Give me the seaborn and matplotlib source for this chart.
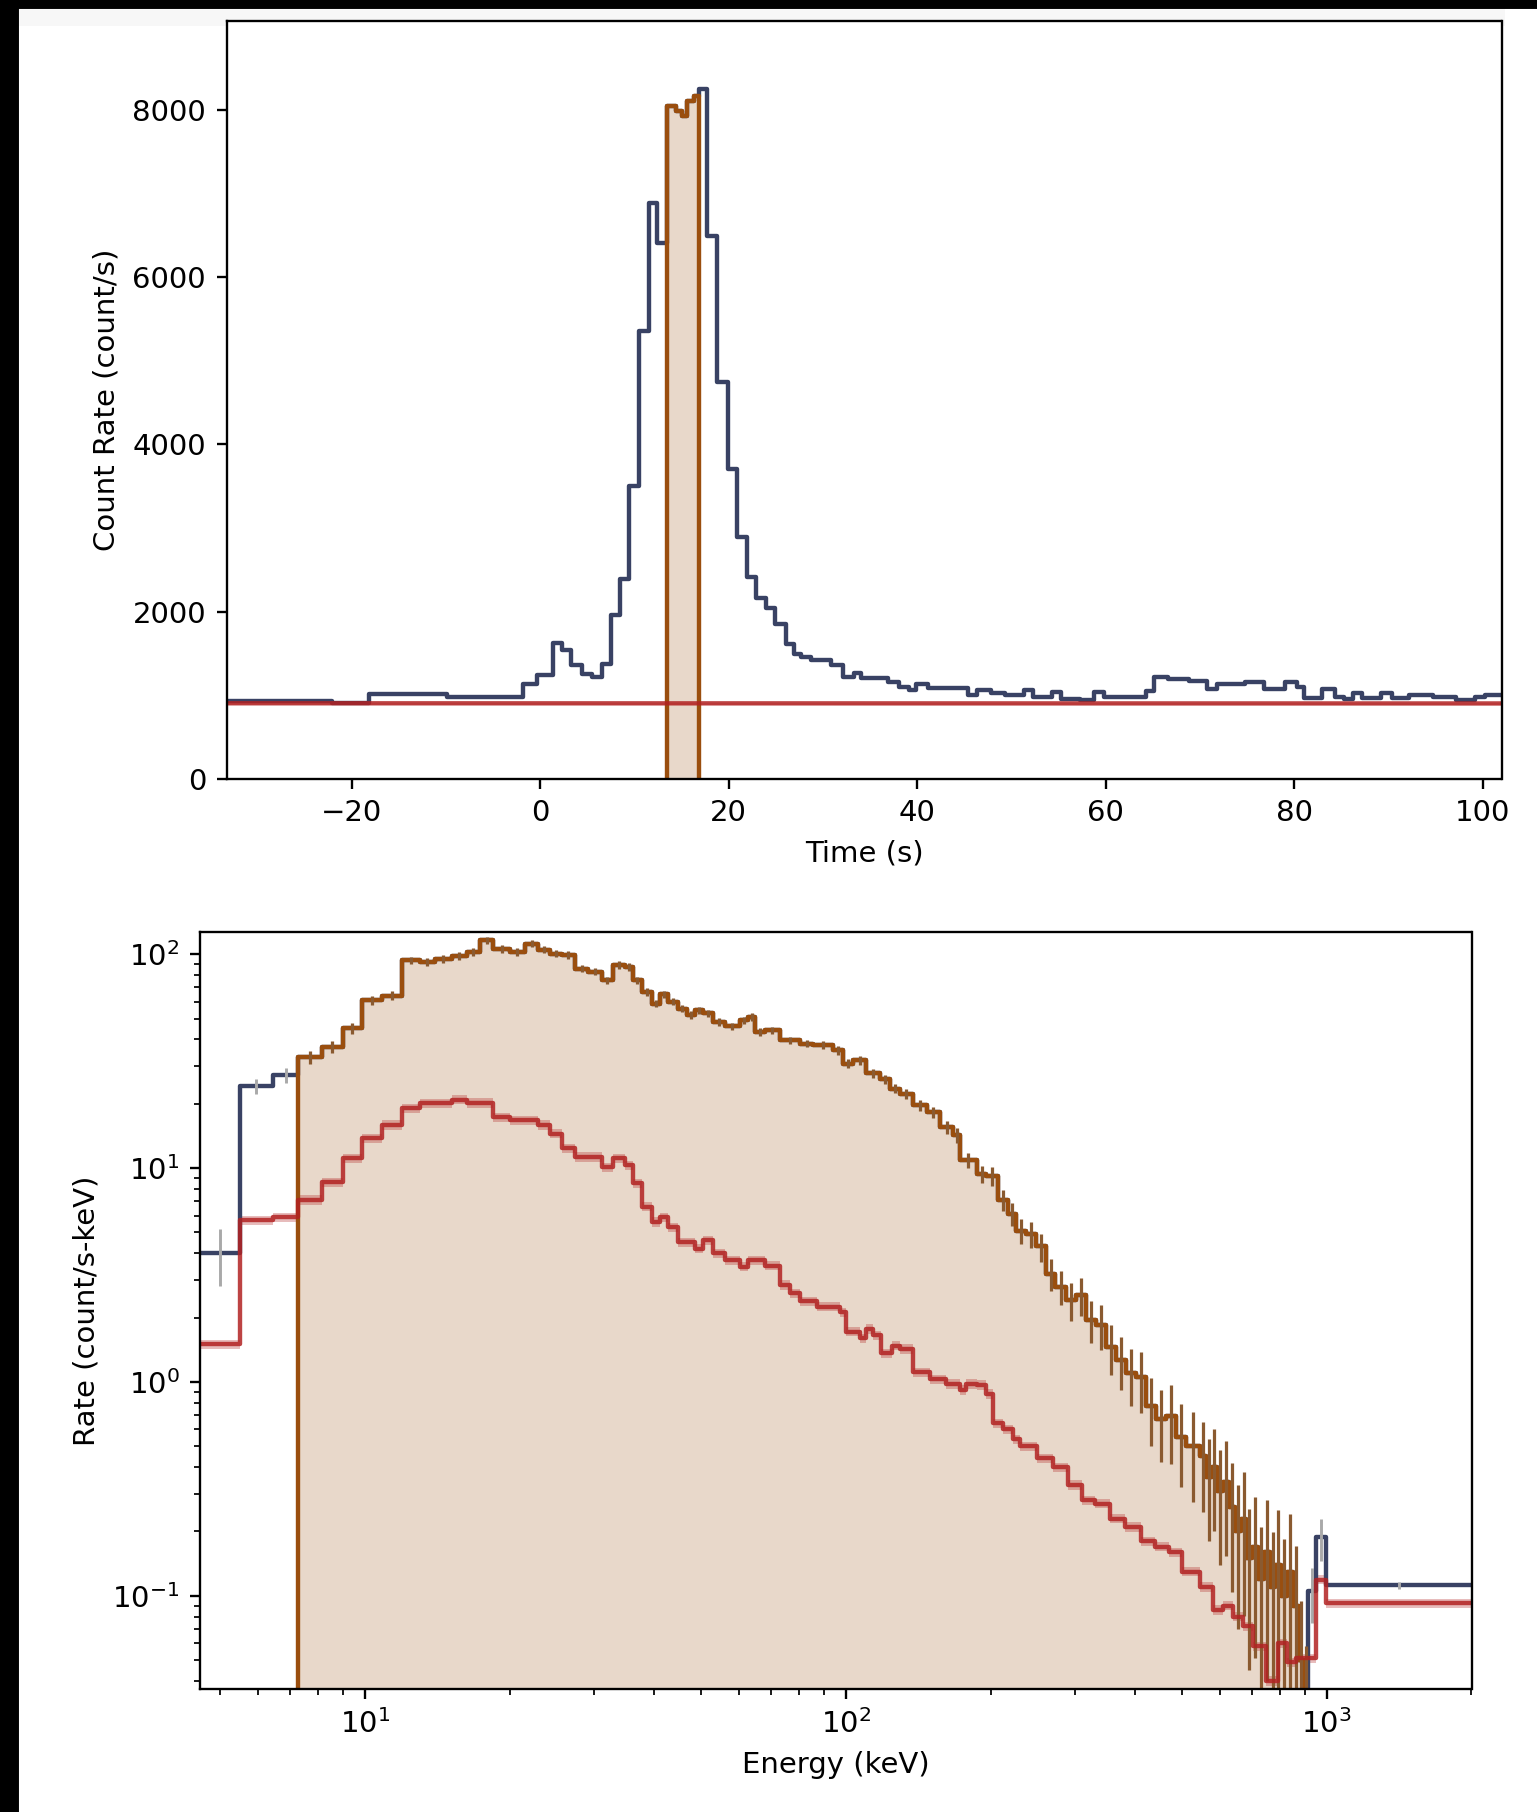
import numpy as np
import matplotlib
matplotlib.use("Agg")
import matplotlib.pyplot as plt
from matplotlib.patches import Rectangle
import seaborn as sns

# ---------------- light curve (top panel) ----------------
lc_edges = [-34.0, -22.1, -18.2, -9.95, -1.84, -0.35, 1.40, 2.34, 3.30, 4.46, 5.52,
            6.51, 7.47, 8.45, 9.41, 10.47, 11.53, 12.35, 13.48, 14.36, 15.07, 15.6,
            16.3, 16.83, 17.72, 18.78, 19.9, 20.83, 21.89, 22.84, 23.9, 24.86, 26.02,
            26.9, 27.66, 28.7, 30.9, 32.1, 33.3, 34.0, 36.9, 38.1, 39.1, 39.9, 41.1,
            45.4, 46.3, 47.8, 49.3, 51.3, 52.3, 54.3, 55.3, 57.3, 58.8, 59.8, 64.3,
            65.1, 66.6, 68.8, 70.8, 71.8, 74.8, 76.8, 79.0, 80.3, 81.0, 83.0, 84.3,
            85.3, 86.2, 87.2, 89.2, 90.4, 92.2, 94.7, 97.2, 99.2, 100.2, 103.0]
lc_rates = [934, 910, 1010, 976, 1140, 1240, 1625, 1540, 1360, 1253,
            1221, 1380, 1957, 2394, 3507, 5357, 6888, 6410, 8049, 7981,
            7923, 8109, 8160, 8252, 6490, 4740, 3707, 2891, 2414, 2165,
            2046, 1857, 1619, 1491, 1460, 1420, 1360, 1221, 1261, 1213,
            1161, 1101, 1062, 1141, 1082, 1002, 1062, 1022, 1002, 1062,
            982, 1042, 962, 943, 1042, 982, 1055, 1221, 1190, 1174,
            1070, 1141, 1161, 1070, 1161, 1094, 974, 1070, 982, 962,
            1022, 974, 1022, 974, 1002, 982, 943, 982, 1002]
sel_time = [13.48, 16.83]
bkg_lc_times = [-34.0, 103.0]
bkg_lc_rates = [905.0, 903.0]

# ---------------- count spectrum (bottom panel) ----------------
spec_lo_edges = [4.54, 5.49, 6.44, 7.27]
spec_lo_rates = [4.0, 24.2, 27.2]
spec_lo_err = [1.2, 2.0, 2.1]

sel_edges = [7.27, 8.13, 9.01, 9.84, 10.83, 11.92, 13.01, 13.98, 15.14, 16.27, 17.34,
             18.49, 20.03, 21.51, 22.94, 24.25, 25.64, 27.33, 29.13, 31.05, 32.84,
             34.72, 36.14, 37.61, 39.45, 41.06, 42.73, 44.82, 46.65, 48.55, 50.52,
             52.99, 56.03, 60.20, 62.66, 64.70, 67.87, 72.93,
             80.3, 85.5, 94.1, 98.7, 103.6, 110.4, 117.7, 123.4, 129.5, 138.0, 147.2,
             156.9, 167.2, 172.6, 187.0, 196.1, 207.3, 217.5, 226.4, 237.5, 249.1,
             261.3, 272.0, 287.6, 301.7, 316.5, 331.9, 348.3, 365.4, 383.3, 402.1,
             421.8, 442.5, 464.2, 487.0, 510.9, 544.5,
             560.0, 576.0, 592.0, 609.0, 626.0, 644.0, 662.0, 681.0, 700.0, 720.0,
             740.0, 761.0, 782.0, 804.0, 827.0, 850.0, 874.0, 898.0, 915.0]
sel_rates = [33.1, 36.9, 45.0, 61.0, 64.0, 93.8, 92.0, 95.0, 98.0, 102.5, 116.0,
             106.0, 102.5, 112.0, 105.0, 100.7, 99.0, 85.7, 83.0, 75.6, 88.9, 87.0,
             75.6, 66.6, 58.8, 65.0, 60.0, 55.7, 51.9, 54.6, 53.0, 48.3, 46.0, 49.0,
             51.0, 43.4, 44.0,
             39.6, 38.2, 37.6, 35.6, 30.8, 32.0, 27.7, 26.0, 23.5, 22.2, 19.7, 18.2,
             15.6, 14.3, 10.9, 9.4, 9.2, 7.1, 6.1, 5.1, 4.9, 4.3, 3.2, 2.79, 2.41,
             2.55, 1.95, 1.85, 1.46, 1.27, 1.10, 1.05, 0.77, 0.67, 0.69, 0.555, 0.50,
             0.45, 0.36, 0.40, 0.31, 0.34, 0.26, 0.20, 0.23, 0.15, 0.17, 0.12, 0.16,
             0.11, 0.14, 0.10, 0.13, 0.09, 0.05, 0.03]
sel_err_frac = [0.07, 0.06, 0.06, 0.05, 0.05, 0.04, 0.04, 0.04, 0.04, 0.04, 0.04,
                0.04, 0.04, 0.04, 0.04, 0.04, 0.04, 0.04, 0.04, 0.04, 0.04, 0.04,
                0.04, 0.04, 0.04, 0.04, 0.04, 0.04, 0.04, 0.04, 0.04, 0.04, 0.04,
                0.04, 0.04, 0.04, 0.04,
                0.04, 0.04, 0.04, 0.05, 0.05, 0.05, 0.05, 0.05, 0.05, 0.05, 0.06,
                0.06, 0.07, 0.08, 0.08, 0.09, 0.10, 0.11, 0.12, 0.13, 0.14, 0.15,
                0.17, 0.18, 0.20, 0.20, 0.22, 0.24, 0.26, 0.28, 0.30, 0.32, 0.35,
                0.37, 0.40, 0.42, 0.45,
                0.45, 0.50, 0.50, 0.55, 0.55, 0.60, 0.65, 0.65, 0.70, 0.70, 0.75,
                0.75, 0.80, 0.80, 0.85, 0.85, 0.90, 0.90, 0.95]

spec_hi_edges = [915.0, 952.0, 998.0, 2000.0]
spec_hi_rates = [0.105, 0.188, 0.112]
spec_hi_err = [0.030, 0.042, 0.004]

bkg_edges = [4.54, 5.49, 6.44, 7.27, 8.13, 9.01, 9.84, 10.83, 11.92, 13.01, 15.14,
             16.27, 18.49, 20.03, 22.94, 24.25, 25.64, 27.33, 31.05, 32.84, 34.72,
             36.14, 37.61, 39.45, 41.06, 42.73, 44.82, 48.55, 50.52, 52.99, 56.03,
             60.20, 62.66, 67.87, 72.93, 76.5, 80.3, 86.9, 97.2, 100.3, 106.9, 110.4,
             114.0, 118.6, 124.5, 129.5, 138.0, 149.5, 161.9, 172.6, 178.2, 187.0,
             196.1, 202.5, 212.4, 222.8, 230.0, 250.0, 270.0, 290.0, 310.0, 330.0,
             355.0, 380.0, 410.0, 440.0, 470.0, 500.0, 545.0, 580.0, 609.0, 638.0,
             670.0, 703.0, 749.0, 792.0, 825.0, 865.0, 952.0, 998.0, 2000.0]
bkg_rates = [1.5, 5.7, 5.9, 7.1, 8.6, 11.1, 13.8, 15.9, 19.0, 20.1, 20.9, 20.2, 17.3,
             16.7, 15.9, 14.5, 12.4, 11.3, 10.1, 11.1, 10.3, 8.5, 6.6, 5.6, 5.9, 5.3,
             4.5, 4.2, 4.6, 4.0, 3.7, 3.46, 3.7, 3.5, 2.84, 2.6, 2.38, 2.25, 2.12,
             1.72, 1.6, 1.77, 1.65, 1.36, 1.48, 1.43, 1.11, 1.03, 0.98, 0.92, 0.98,
             0.97, 0.88, 0.64, 0.60, 0.54, 0.50, 0.44, 0.40, 0.33, 0.28, 0.27, 0.23,
             0.21, 0.18, 0.17, 0.16, 0.13, 0.11, 0.086, 0.09, 0.08, 0.072, 0.058,
             0.040, 0.060, 0.049, 0.051, 0.119, 0.0925]

# ---------------- styling ----------------
DATA_COLOR = '#394264'
SEL_COLOR = '#9a4e0e'
SEL_ERR_COLOR = '#8a5a30'
BKG_COLOR = 'firebrick'
ERR_COLOR = 'darkgrey'
LW = 1.5

W, H, DPI = 1537, 1812, 210
fig = plt.figure(figsize=(W / DPI, H / DPI), dpi=DPI)

def fx(px):
    return px / W

def fy(py):
    return 1 - py / H

ax1 = fig.add_axes([fx(226.5), fy(779), fx(1501.5) - fx(226.5), fy(21) - fy(779)])
ax2 = fig.add_axes([fx(200), fy(1689), fx(1471.5) - fx(200), fy(932) - fy(1689)])


def step_xy(edges, vals):
    return list(edges), list(vals) + [vals[-1]]


def closed_step_xy(edges, vals, base):
    x = [edges[0]] + list(edges) + [edges[-1]]
    y = [base] + list(vals) + [vals[-1], base]
    return x, y


# ---------------- top panel ----------------
x, y = step_xy(lc_edges, lc_rates)
sns.lineplot(x=x, y=y, ax=ax1, drawstyle='steps-post', color=DATA_COLOR, lw=LW,
             estimator=None, sort=False)

e = np.array(lc_edges)
i0 = int(np.argmin(np.abs(e - sel_time[0])))
i1 = int(np.argmin(np.abs(e - sel_time[1])))
s_edges = lc_edges[i0:i1 + 1]
s_vals = lc_rates[i0:i1]
ax1.fill_between(s_edges, list(s_vals) + [s_vals[-1]], 0, step='post',
                 color=SEL_COLOR, alpha=0.22, lw=0)
x, y = closed_step_xy(s_edges, s_vals, 0)
sns.lineplot(x=x, y=y, ax=ax1, drawstyle='steps-post', color=SEL_COLOR, lw=LW,
             estimator=None, sort=False)

ax1.fill_between(bkg_lc_times, np.array(bkg_lc_rates) - 12, np.array(bkg_lc_rates) + 12,
                 color=BKG_COLOR, alpha=0.3, lw=0)
sns.lineplot(x=bkg_lc_times, y=bkg_lc_rates, ax=ax1, color=BKG_COLOR, alpha=0.85,
             lw=LW, estimator=None, sort=False)

ax1.set_xlim(-33.3, 102.0)
ax1.set_ylim(0, 9060)
ax1.set_xlabel('Time (s)')
ax1.set_ylabel('Count Rate (count/s)')

# ---------------- bottom panel ----------------
ax2.set_xscale('log')
ax2.set_yscale('log')

all_edges = spec_lo_edges + sel_edges[1:] + spec_hi_edges[1:]
all_rates = spec_lo_rates + sel_rates + spec_hi_rates
x, y = step_xy(all_edges, all_rates)
sns.lineplot(x=x, y=y, ax=ax2, drawstyle='steps-post', color=DATA_COLOR, lw=LW,
             estimator=None, sort=False)


def centers(edges):
    ed = np.array(edges)
    return np.sqrt(ed[:-1] * ed[1:])

ax2.errorbar(centers(spec_lo_edges), spec_lo_rates, yerr=spec_lo_err, fmt='none',
             ecolor=ERR_COLOR, elinewidth=1.0)
ax2.errorbar(centers(spec_hi_edges), spec_hi_rates, yerr=spec_hi_err, fmt='none',
             ecolor=ERR_COLOR, elinewidth=1.0)

base = 1e-3
ax2.fill_between(sel_edges, list(sel_rates) + [sel_rates[-1]], base, step='post',
                 color=SEL_COLOR, alpha=0.22, lw=0)
x, y = closed_step_xy(sel_edges, sel_rates, base)
sns.lineplot(x=x, y=y, ax=ax2, drawstyle='steps-post', color=SEL_COLOR, lw=LW,
             estimator=None, sort=False)
sr = np.array(sel_rates)
ax2.errorbar(centers(sel_edges), sr, yerr=sr * np.array(sel_err_frac), fmt='none',
             ecolor=SEL_ERR_COLOR, elinewidth=1.1)

br = np.array(bkg_rates + [bkg_rates[-1]])
ax2.fill_between(bkg_edges, br * 0.95, br * 1.05, step='post', color=BKG_COLOR,
                 alpha=0.3, lw=0)
x, y = step_xy(bkg_edges, bkg_rates)
sns.lineplot(x=x, y=y, ax=ax2, drawstyle='steps-post', color=BKG_COLOR, alpha=0.85,
             lw=LW, estimator=None, sort=False)

ax2.set_xlim(4.54, 2000)
ax2.set_ylim(0.0367, 127)
ax2.set_xlabel('Energy (keV)')
ax2.set_ylabel('Rate (count/s-keV)')

# ---------------- screenshot frame ----------------
fig.patches.append(Rectangle((fx(17), fy(24)), fx(1503) - fx(17), fy(7) - fy(24),
                             transform=fig.transFigure, color='#f7f7f7', zorder=-5))
fig.patches.append(Rectangle((0, 0), fx(17), 1, transform=fig.transFigure,
                             color='black', zorder=10))
fig.patches.append(Rectangle((0, fy(7)), 1, fy(0) - fy(7), transform=fig.transFigure,
                             color='black', zorder=10))

fig.savefig('out.png', dpi=DPI)
